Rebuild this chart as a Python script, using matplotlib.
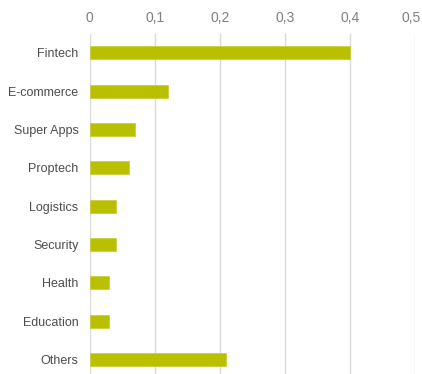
import matplotlib.pyplot as plt
import matplotlib.transforms as mtransforms
from matplotlib.ticker import FuncFormatter

# data
categories = ["Fintech", "E-commerce", "Super Apps", "Proptech", "Logistics",
              "Security", "Health", "Education", "Others"]
shares = [0.40, 0.12, 0.07, 0.06, 0.04, 0.04, 0.03, 0.03, 0.21]
ticks = [0, 0.1, 0.2, 0.3, 0.4, 0.5]

plt.rcParams['font.family'] = ['Liberation Sans', 'DejaVu Sans']

fig = plt.figure(figsize=(4.22, 3.74), dpi=100)
ax = fig.add_axes([0.2126, -0.013, 0.771, 0.923])

ax.barh(range(len(categories)), shares, height=0.34, color='#b9c000',
        edgecolor='#c6cc33', linewidth=0.5, zorder=3)

ax.set_xlim(0, 0.5)
ax.set_ylim(len(categories) - 0.5, -0.5)
ax.set_yticks(range(len(categories)))
ax.set_yticklabels(categories, fontsize=9, color='#4d4d4d')
ax.set_xticks(ticks)
ax.xaxis.set_major_formatter(FuncFormatter(lambda v, p: ('%g' % round(v, 1)).replace('.', ',')))
ax.xaxis.tick_top()
ax.tick_params(axis='x', length=0, pad=6, labelsize=10, labelcolor='#808080')
ax.tick_params(axis='y', length=0, pad=8)
ax.grid(axis='x', color='#d9d9d9', linewidth=1, zorder=0)
for s in ax.spines.values():
    s.set_visible(False)

# nudge the last top label so it stays inside the figure
last = ax.get_xticklabels(which='major')[-1]
ticklines = ax.xaxis.get_major_ticks()[-1]
ticklines.label2.set_transform(ticklines.label2.get_transform() +
                               mtransforms.ScaledTranslation(-4 / 100, 0, fig.dpi_scale_trans))

fig.savefig('out.png', dpi=100)
